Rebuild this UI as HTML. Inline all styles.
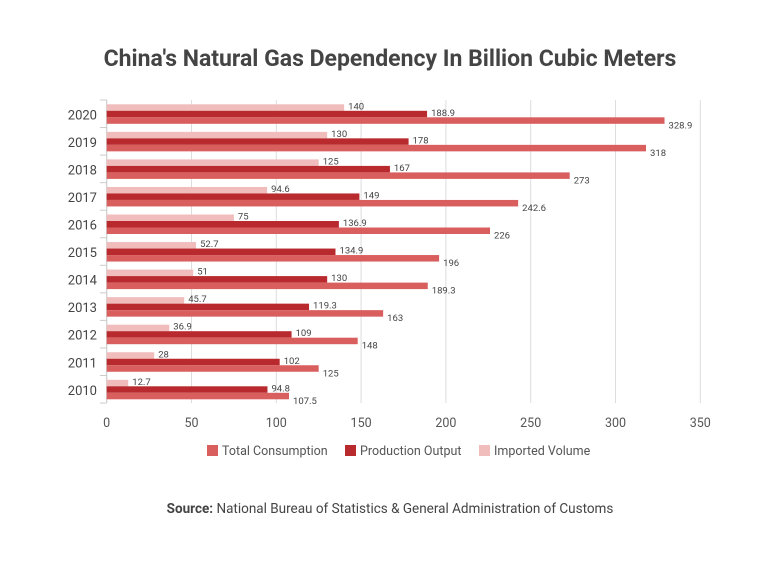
<!DOCTYPE html><html><head><style>body{margin:0;background:#fff;}</style></head><body>
<svg width="780" height="559" xmlns="http://www.w3.org/2000/svg" font-family="Roboto, 'Liberation Sans', sans-serif">
<text x="390" y="66" text-anchor="middle" font-size="23" font-weight="bold" fill="#444">China's Natural Gas Dependency In Billion Cubic Meters</text>
<g id="g"></g>
<text x="390" y="513" text-anchor="middle" font-size="13.5" fill="#444"><tspan font-weight="bold">Source:</tspan> National Bureau of Statistics &amp; General Administration of Customs</text>
<g font-size="12.5" fill="#555">
<rect x="207" y="445" width="11" height="11" fill="#d95f5f"/><text x="222" y="455">Total Consumption</text>
<rect x="345" y="445" width="11" height="11" fill="#b82a2e"/><text x="360" y="455">Production Output</text>
<rect x="479" y="445" width="11" height="11" fill="#f0bcbc"/><text x="494" y="455">Imported Volume</text>
</g>
</svg>
<script>
(function(){
const d=[[2020,328.9,188.9,140],[2019,318,178,130],[2018,273,167,125],[2017,242.6,149,94.6],[2016,226,136.9,75],[2015,196,134.9,52.7],[2014,189.3,130,51],[2013,163,119.3,45.7],[2012,148,109,36.9],[2011,125,102,28],[2010,107.5,94.8,12.7]];
const x0=106.7,k=1.696,yTop=100,bh=27.55;let s='';
for(let i=0;i<=7;i++){const x=x0+i*50*k;s+=`<line x1="${x}" y1="${yTop}" x2="${x}" y2="403" stroke="#ddd"/>`;s+=`<text x="${x}" y="427" text-anchor="middle" font-size="12.5" fill="#555">${i*50}</text>`;}
s+=`<line x1="${x0}" y1="${yTop}" x2="${x0}" y2="403" stroke="#ccc"/>`;
for(let i=0;i<=11;i++){const y=yTop+i*bh;s+=`<line x1="100" y1="${y}" x2="${x0}" y2="${y}" stroke="#ccc"/>`;}
d.forEach((r,i)=>{const y=yTop+i*bh+4.3;
s+=`<text x="97" y="${y+15}" text-anchor="end" font-size="13" fill="#444">${r[0]}</text>`;
[[r[3],'#f0bcbc',0],[r[2],'#b82a2e',1],[r[1],'#d95f5f',2]].forEach(([v,c,j])=>{const yy=y+j*6.5;const w=v*k;
s+=`<rect x="${x0}" y="${yy}" width="${w}" height="6.5" fill="${c}"/>`;
s+=`<text x="${x0+w+4}" y="${yy+(j==2?11:5)}" font-size="9.5" fill="#444">${v}</text>`;});});
document.getElementById('g').innerHTML=s;
})();
</script>
</body></html>
